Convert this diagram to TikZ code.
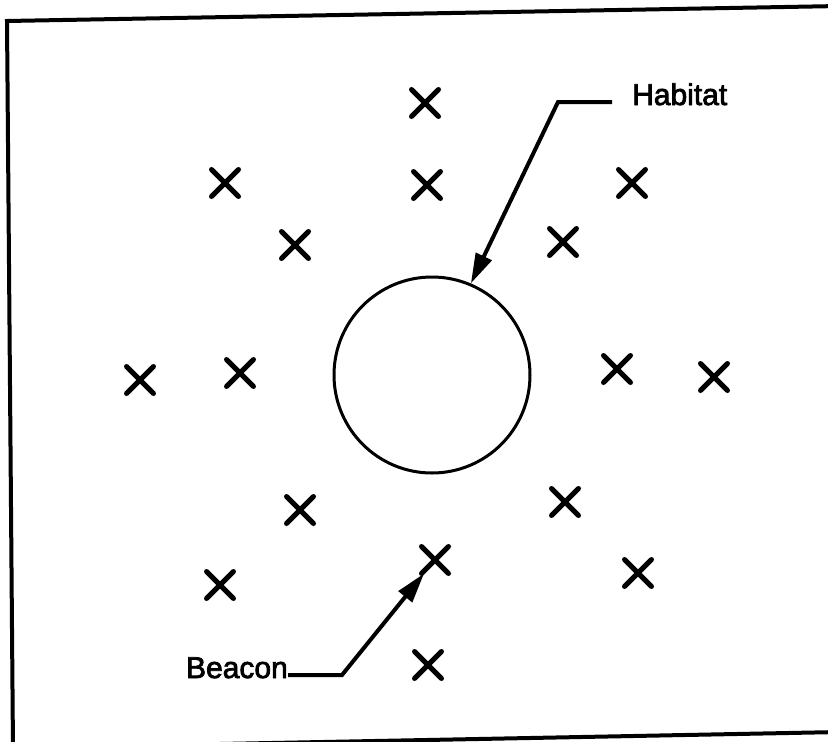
\documentclass[tikz,border=0pt]{standalone}
\usepackage{fontspec}
\setmainfont{Liberation Sans}
\newfontfamily\lblfont{Liberation Sans}[FakeBold=2.5]
\usetikzlibrary{shapes.misc,arrows.meta}
\begin{document}
\begin{tikzpicture}[x=1pt,y=-1pt,
  beaconmark/.style={cross out,draw,line width=5pt,line cap=round,minimum size=22pt,inner sep=0pt},
  leader/.style={line width=4pt,line join=miter},
  tip/.style={-{Triangle[length=30pt,width=17pt]}},
  lbl/.style={inner sep=0pt,font=\lblfont\fontsize{30}{34}\selectfont}]
\useasboundingbox (0,0) rectangle (828,742);
% frame
\draw[line width=4pt] (840,6) -- (7,21) -- (13,750);
\draw[line width=4pt] (13,748) -- (840,732);
% habitat
\node[circle,draw,line width=3pt,minimum size=196pt,inner sep=0pt] (hab) at (432,375) {};
% beacons
\node[beaconmark] (x1) at (425,103) {};
\node[beaconmark] (x2) at (225,183) {};
\node[beaconmark] (x3) at (427,185) {};
\node[beaconmark] (x4) at (632,183) {};
\node[beaconmark] (x5) at (295,245) {};
\node[beaconmark] (x6) at (563,242) {};
\node[beaconmark] (x7) at (140,380) {};
\node[beaconmark] (x8) at (240,373) {};
\node[beaconmark] (x9) at (617,369) {};
\node[beaconmark] (x10) at (714,377) {};
\node[beaconmark] (x11) at (300,510) {};
\node[beaconmark] (x12) at (565,502) {};
\node[beaconmark] (x13) at (435,560) {};
\node[beaconmark] (x14) at (220,585) {};
\node[beaconmark] (x15) at (638,573) {};
\node[beaconmark] (x16) at (428,665) {};
% labels
\node[lbl,anchor=base west] (habtxt) at (632,105) {Habitat};
\node[lbl,anchor=base east] (bctxt) at (288,678) {Beacon};
\coordinate (h1) at (612,102);
\coordinate (h2) at (558,102);
\coordinate (b1) at (342,675);
\draw[leader,tip] (h1) -- (h2) -- (hab.67.5);
\draw[leader,tip] ([yshift=3pt]bctxt.base east) -- (b1) -- (x13);
\end{tikzpicture}
\end{document}
